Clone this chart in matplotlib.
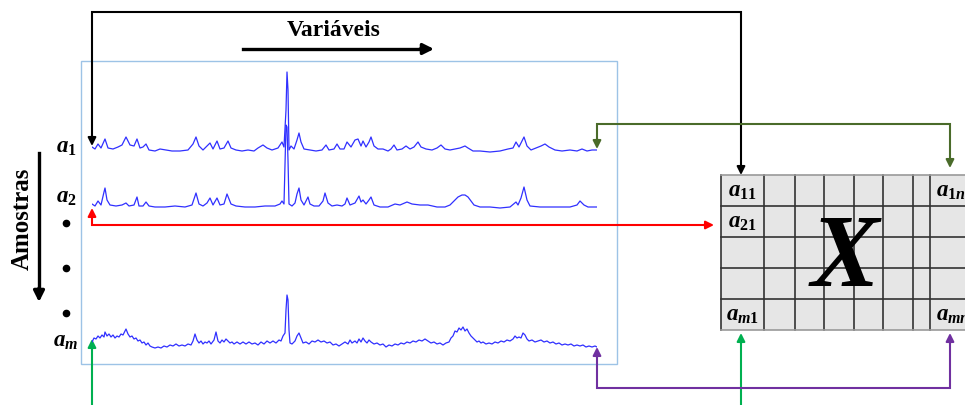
import matplotlib
matplotlib.use("Agg")
import matplotlib.pyplot as plt
from matplotlib.patches import Rectangle

plt.rcParams['mathtext.fontset'] = 'custom'
plt.rcParams['mathtext.rm'] = 'Liberation Serif:bold'
plt.rcParams['mathtext.it'] = 'Liberation Serif:italic:bold'
plt.rcParams['mathtext.bf'] = 'Liberation Serif:bold'

# ---------------- data (variable index, intensity) ----------------
a1_idx = [0, 3, 6, 9, 13, 16, 21, 26, 30, 34, 38, 42, 45, 48, 51, 54, 57, 63, 68, 74, 80, 88, 96,
          101, 104, 107, 111, 115, 118, 121, 125, 128, 132, 136, 139, 144, 150, 156, 162, 166, 171,
          175, 180, 186, 190, 192, 194, 195, 196, 197, 199, 202, 205, 207, 209, 212, 218, 224, 230,
          234, 237, 242, 245, 248, 252, 255, 259, 263, 266, 269, 271, 274, 277, 279, 282, 286, 291,
          296, 299, 302, 305, 310, 314, 318, 322, 326, 329, 334, 340, 345, 349, 353, 358, 363, 368,
          373, 376, 381, 388, 398, 408, 416, 421, 424, 427, 432, 435, 439, 444, 449, 453, 457, 463,
          470, 478, 485, 490, 495, 500, 505]
a1_int = [4, 2, 7, 3, 12, 3, 2, 4, 6, 14, 6, 5, 12, 3, 4, 7, 1, 0, 2, 1, 0, 0, 1,
          7, 14, 5, 1, 5, 8, 2, 10, 2, 3, 10, 3, 1, 0, 1, 0, 3, 6,
          3, 1, 3, 9, 4, 41, 79, 61, 1, 5, 2, 11, 18, 9, 2, 1, 0, 1,
          6, 1, 2, 7, 2, 2, 9, 4, 11, 12, 5, 10, 4, 9, 14, 5, 2, 2,
          0, 2, 6, 1, 2, 5, 2, 4, 9, 4, 2, 1, 3, 6, 2, 1, 2, 3,
          5, 3, 0, 0, -1, 0, 2, 3, 9, 4, 14, 5, 1, 3, 5, 7, 4, 1,
          0, 1, 0, 2, 0, 1, 1]

a2_idx = [0, 3, 6, 9, 12, 13, 15, 18, 24, 30, 34, 37, 42, 45, 47, 51, 54, 57, 63, 73, 83, 93, 100,
          104, 107, 111, 115, 118, 121, 125, 128, 132, 135, 139, 144, 153, 163, 173, 183, 188, 190,
          192, 194, 195, 196, 197, 200, 203, 205, 207, 209, 212, 214, 216, 218, 222, 227, 231, 233,
          236, 240, 245, 250, 253, 255, 258, 263, 267, 269, 271, 274, 277, 279, 282, 288, 296, 303,
          308, 315, 320, 328, 336, 345, 353, 358, 363, 366, 370, 373, 376, 379, 382, 388, 398, 408,
          418, 424, 426, 429, 432, 435, 438, 448, 463, 478, 485, 488, 492, 496, 505]
a2_int = [3, 1, 6, 2, 15, 19, 7, 2, 1, 2, 4, 1, 2, 10, 1, 1, 5, 1, 0, 0, 1, 0, 2,
          14, 3, 1, 4, 9, 2, 9, 2, 3, 13, 3, 1, 0, 0, 1, 1, 3, 6,
          3, 82, 80, 47, 3, 1, 4, 13, 19, 7, 2, 6, 10, 3, 1, 1, 6, 14,
          4, 1, 2, 1, 3, 9, 2, 4, 11, 5, 7, 3, 7, 10, 2, 0, 0, 3,
          2, 5, 3, 2, 2, 0, 0, 2, 7, 10, 12, 12, 10, 6, 2, 0, 0, -1,
          0, 5, 2, 9, 20, 7, 1, 0, 0, 0, 2, 6, 2, 0, 0]

am_idx = [0, 2, 4, 6, 8, 10, 12, 13, 15, 17, 19, 21, 23, 25, 27, 29, 31, 33, 34, 36, 38, 40, 42,
          44, 46, 48, 50, 52, 54, 56, 58, 60, 63, 66, 69, 72, 75, 78, 81, 84, 87, 90, 93, 96, 99,
          101, 103, 105, 107, 109, 111, 113, 115, 117, 119, 122, 124, 126, 128, 130, 132, 134, 136,
          138, 140, 142, 145, 148, 151, 154, 157, 160, 163, 166, 169, 172, 175, 178, 181, 184, 187,
          189, 191, 193, 194, 195, 196, 197, 198, 200, 203, 205, 207, 209, 211, 214, 217, 220, 223,
          226, 229, 232, 235, 238, 241, 244, 247, 250, 253, 256, 258, 260, 263, 265, 267, 269, 271,
          273, 275, 277, 279, 282, 285, 288, 291, 294, 297, 300, 303, 306, 309, 312, 315, 318, 321,
          324, 327, 330, 333, 336, 339, 342, 345, 348, 351, 354, 357, 359, 361, 363, 365, 367, 369,
          371, 373, 375, 377, 379, 381, 383, 385, 387, 389, 391, 394, 397, 400, 403, 406, 409, 412,
          415, 418, 421, 423, 425, 427, 429, 431, 433, 435, 437, 440, 443, 446, 449, 452, 455, 458,
          461, 464, 467, 470, 473, 476, 479, 482, 485, 488, 491, 494, 497, 500, 503, 505]
am_int = [5, 9, 8, 11, 9, 12, 10, 15, 11, 13, 10, 12, 9, 11, 10, 13, 12, 16, 18, 13, 10, 11, 8,
          9, 6, 7, 4, 5, 2, 4, 1, 0, -1, 0, -1, 1, 0, 2, 1, 3, 1, 2, 1, 3, 2,
          6, 13, 7, 4, 6, 3, 5, 4, 6, 3, 7, 15, 6, 4, 7, 5, 8, 6,
          4, 5, 3, 5, 3, 5, 3, 5, 3, 4, 2, 5, 3, 6, 4, 6, 4, 7,
          6, 11, 14, 37, 52, 47, 17, 4, 3, 6, 11, 14, 9, 4, 5, 3, 6, 5,
          7, 5, 6, 4, 5, 2, 3, 1, 3, 5, 3, 7, 4, 6, 4, 8, 5, 9,
          6, 4, 7, 5, 3, 4, 2, 3, 0, 2, 1, 3, 2, 4, 3, 5, 4, 6,
          5, 7, 6, 8, 6, 4, 5, 3, 4, 2, 4, 5, 9, 11, 16, 15, 19, 17,
          20, 16, 18, 14, 11, 9, 7, 5, 6, 4, 5, 3, 4, 3, 5, 4, 6, 5,
          7, 6, 8, 11, 9, 10, 9, 14, 12, 8, 6, 7, 5, 6, 7, 5, 6, 4,
          5, 3, 4, 2, 3, 2, 3, 1, 2, 1, 2, 0, 1, 0, 1, 0]

sample_labels = [r'$a_1$', r'$a_2$', r'$a_m$']
cell_labels = {(0, 0): r'$a_{11}$', (1, 0): r'$a_{21}$', (4, 0): r'$a_{m1}$',
               (0, 7): r'$a_{1n}$', (4, 7): r'$a_{mn}$'}
title_vars = 'Variáveis'
title_samples = 'Amostras'
matrix_name = r'$X$'

# ---------------- figure ----------------
W, H = 965, 405
fig = plt.figure(figsize=(W / 100, H / 100), dpi=100)
ax = fig.add_axes([0, 0, 1, 1])
ax.set_xlim(0, W)
ax.set_ylim(H, 0)
ax.axis('off')

# spectra frame
ax.add_patch(Rectangle((81, 61), 536, 303, fill=False, edgecolor='#9dc3e6', lw=1.0, zorder=1))

# matrix grid
col_edges = [721, 764, 795, 824, 854, 883, 913, 930, 985]
row_edges = [175, 206, 237, 268, 299, 330]
ax.add_patch(Rectangle((col_edges[0], row_edges[0]), col_edges[-1] - col_edges[0],
                       row_edges[-1] - row_edges[0], facecolor='#e6e6e6', edgecolor='none', zorder=1))
for xe in col_edges:
    ax.plot([xe, xe], [row_edges[0], row_edges[-1]], color='#333333', lw=1.2, zorder=2)
for ye in row_edges:
    c = '#9a9a9a' if ye in (row_edges[0], row_edges[-1]) else '#333333'
    ax.plot([col_edges[0], col_edges[-1]], [ye, ye], color=c, lw=1.2, zorder=2)
for (r, c), lab in cell_labels.items():
    yc = (row_edges[r] + row_edges[r + 1]) / 2
    if c == 0:
        ax.text((col_edges[0] + col_edges[1]) / 2, yc, lab, ha='center', va='center',
                fontsize=16.5, zorder=3)
    else:
        ax.text(col_edges[c] + 6, yc, lab, ha='left', va='center', fontsize=16.5, zorder=3,
                clip_on=True)
ax.text(846, 257, matrix_name, ha='center', va='center', fontsize=74, zorder=3)


def head(x0, y0, x1, y1, color, ms=12, lw=1.5):
    ax.annotate('', xy=(x1, y1), xytext=(x0, y0),
                arrowprops=dict(arrowstyle='-|>', color=color, lw=lw, shrinkA=0, shrinkB=0,
                                mutation_scale=ms), zorder=4)


def path(xs, ys, color, lw=1.5):
    ax.plot(xs, ys, color=color, lw=lw, solid_joinstyle='miter', zorder=4)


# black connector
path([92, 92, 741, 741], [138, 12, 12, 168], 'black')
head(92, 135, 92, 146, 'black')
head(741, 165, 741, 175, 'black')
# dark green connector
path([597, 597, 950, 950], [141, 124, 124, 160], '#4a6b2a')
head(597, 138, 597, 149, '#4a6b2a')
head(950, 158, 950, 168, '#4a6b2a')
# red connector
path([92, 92, 705], [217, 225, 225], '#ff0000')
head(92, 218, 92, 208, '#ff0000')
head(703, 225, 714, 225, '#ff0000')
# green connectors
path([92, 92], [410, 348], '#00b050')
head(92, 350, 92, 339, '#00b050')
path([741, 741], [410, 342], '#00b050')
head(741, 344, 741, 333, '#00b050')
# purple connector
path([597, 597, 950, 950], [357, 388, 388, 341], '#7030a0')
head(597, 358, 597, 347, '#7030a0')
head(950, 344, 950, 333, '#7030a0')

# titles with arrows
ax.text(334, 30, title_vars, ha='center', va='center', fontsize=17,
        family='Liberation Serif', weight='bold')
path([243, 425], [49, 49], 'black', lw=2.4)
head(420, 49, 434, 49, 'black', ms=16, lw=2.4)
ax.text(22, 219, title_samples, ha='center', va='center', fontsize=18, rotation=90,
        family='Liberation Serif', weight='bold')
path([39, 39], [153, 292], 'black', lw=2.4)
head(39, 288, 39, 302, 'black', ms=16, lw=2.4)

# sample labels and dots
for lab, yy in zip(sample_labels, [146, 197, 340]):
    ax.text(66, yy, lab, ha='center', va='center', fontsize=16.5)
for yy in [223, 268, 313]:
    ax.plot(66, yy, 'o', color='black', ms=4.5)

# spectra axes
for idx, inten, base in [(a1_idx, a1_int, 151), (a2_idx, a2_int, 207), (am_idx, am_int, 347)]:
    sax = fig.add_axes([92 / W, (H - (base + 10)) / H, 505 / W, 100 / H])
    sax.set_xlim(0, 505)
    sax.set_ylim(-10, 90)
    sax.axis('off')
    sax.patch.set_alpha(0)
    sax.plot(idx, inten, color='#3030ff', lw=0.9)

fig.savefig('out.png', dpi=100)
